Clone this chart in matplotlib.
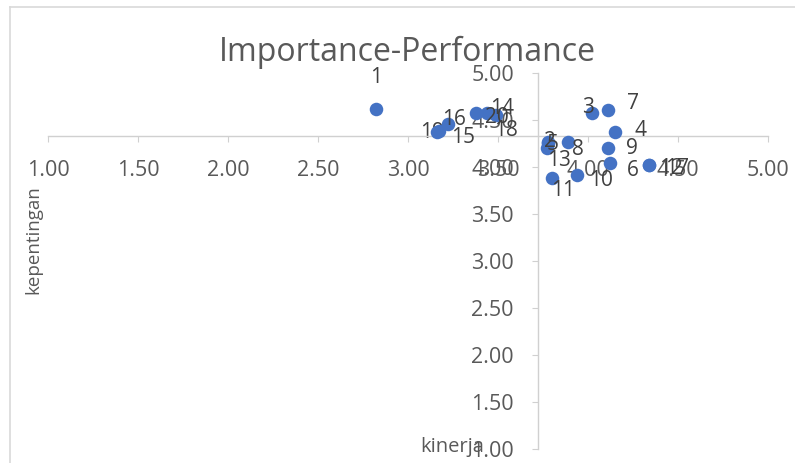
import matplotlib.pyplot as plt
import numpy as np

# Attribute data (kinerja = performance, kepentingan = importance)
labels = ['1', '2', '3', '4', '5', '6', '7', '8', '9', '10',
          '11', '12', '13', '14', '15', '16', '17', '18', '19', '20']
kinerja = [2.82, 3.78, 4.02, 4.15, 3.78, 4.12, 4.11, 3.89, 4.11, 3.94,
           3.80, 4.34, 3.77, 3.44, 3.17, 3.22, 4.34, 3.49, 3.16, 3.38]
kepentingan = [4.62, 4.27, 4.57, 4.37, 4.26, 4.04, 4.61, 4.27, 4.20, 3.92,
               3.88, 4.02, 4.20, 4.57, 4.38, 4.46, 4.02, 4.55, 4.37, 4.57]

# label offsets in pixels (dx, dy with y pointing down)
offsets = [(0, -31), (2, 0), (-4, -6), (25, -2), (4, 2), (23, 7), (25, -6), (10, 8),
           (24, 0), (24, 6), (11, 12), (22, 3), (12, 12), (15, -5), (24, 6), (6, -4),
           (28, 3), (10, 15), (-5, 0), (20, 4)]

x_cross = 3.72
y_cross = 4.33
ticks = np.arange(1.0, 5.01, 0.5)

plt.rcParams['font.family'] = ['Open Sans', 'DejaVu Sans']

fig = plt.figure(figsize=(7.95, 4.63), dpi=100)
ax = fig.add_axes([48 / 795, 14 / 463, 720 / 795, 376 / 463])

ax.scatter(kinerja, kepentingan, s=95, color='#4472c4', zorder=3, linewidths=0)

for i, lab in enumerate(labels):
    dx, dy = offsets[i]
    z = 2 if lab == '19' else 4
    ax.annotate(lab, (kinerja[i], kepentingan[i]), xytext=(dx * 0.72, -dy * 0.72),
                textcoords='offset points', ha='center', va='center',
                fontsize=15, color='#404040', zorder=z)

ax.set_xlim(1, 5)
ax.set_ylim(1, 5)
ax.set_xticks(ticks)
ax.set_yticks(ticks)
ax.set_xticklabels(['%.2f' % t for t in ticks])
ax.set_yticklabels(['%.2f' % t for t in ticks])

ax.spines['left'].set_position(('data', x_cross))
ax.spines['bottom'].set_position(('data', y_cross))
ax.spines['top'].set_visible(False)
ax.spines['right'].set_visible(False)
for s in ['left', 'bottom']:
    ax.spines[s].set_color('#d0d0d0')
    ax.spines[s].set_linewidth(1.0)
ax.set_axisbelow(True)
ax.tick_params(axis='x', direction='out', length=4, color='#d0d0d0',
               labelsize=15.5, labelcolor='#595959', pad=13)
ax.tick_params(axis='y', direction='out', length=4, color='#d0d0d0',
               labelsize=15.5, labelcolor='#595959', pad=13)
ax.patch.set_alpha(0)

fig.text(407 / 795, 1 - 52 / 463, 'Importance-Performance', ha='center', va='center',
         fontsize=23, color='#595959')
fig.text(452 / 795, 1 - 447 / 463, 'kinerja', ha='center', va='center',
         fontsize=14.5, color='#595959')
fig.text(33 / 795, 1 - 240 / 463, 'kepentingan', ha='center', va='center',
         rotation=90, fontsize=13.5, color='#595959')

# chart border (only left and top edges fall inside the picture)
fig.add_artist(plt.Line2D([10 / 795, 10 / 795], [0, 1 - 7 / 463],
                          transform=fig.transFigure, color='#d9d9d9', lw=1.2))
fig.add_artist(plt.Line2D([10 / 795, 1], [1 - 7 / 463, 1 - 7 / 463],
                          transform=fig.transFigure, color='#d9d9d9', lw=1.2))

fig.savefig('out.png', dpi=100)
